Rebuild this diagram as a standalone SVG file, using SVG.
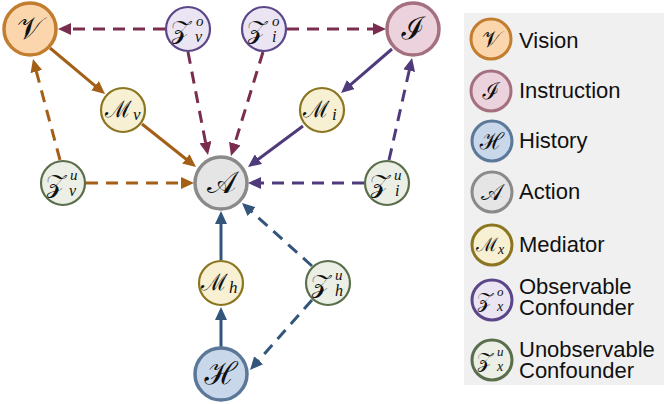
<svg xmlns="http://www.w3.org/2000/svg" width="664" height="404" viewBox="0 0 664 404">
<style>
.v{fill:#fbd6ad;stroke:#c27d2f;stroke-width:3.5}
.i{fill:#ecd2dc;stroke:#a4707f;stroke-width:3.5}
.h{fill:#c9d7ea;stroke:#5b7898;stroke-width:3.5}
.a{fill:#e5e5e5;stroke:#8a8a8a;stroke-width:3.5}
.m{fill:#f8f0d2;stroke:#8b7521;stroke-width:2.2}
.zo{fill:#ebe5f3;stroke:#5a4688;stroke-width:2.2}
.zu{fill:#ebefe6;stroke:#5b6e4b;stroke-width:2.2}
.lg{stroke-width:3}
.sc{font-family:"Noto Sans",serif;fill:#111}
.it{font-family:"Liberation Serif",serif;font-style:italic}
.lt{font-family:"Liberation Sans",Arial,sans-serif;font-size:22px;fill:#111}
.e{fill:none;stroke-width:3}
.d{stroke-dasharray:12 8}
.br{stroke:#a35f16}.mr{stroke:#7b2d4f}.pu{stroke:#4f3a7c}.nv{stroke:#33557c}
</style>
<defs>
<marker id="ab" markerUnits="userSpaceOnUse" markerWidth="14" markerHeight="12" refX="1" refY="6" orient="auto"><path d="M0,0L13,6L0,12z" fill="#a35f16"/></marker>
<marker id="am" markerUnits="userSpaceOnUse" markerWidth="14" markerHeight="12" refX="1" refY="6" orient="auto"><path d="M0,0L13,6L0,12z" fill="#7b2d4f"/></marker>
<marker id="ap" markerUnits="userSpaceOnUse" markerWidth="14" markerHeight="12" refX="1" refY="6" orient="auto"><path d="M0,0L13,6L0,12z" fill="#4f3a7c"/></marker>
<marker id="an" markerUnits="userSpaceOnUse" markerWidth="14" markerHeight="12" refX="1" refY="6" orient="auto"><path d="M0,0L13,6L0,12z" fill="#33557c"/></marker>
</defs>
<rect x="464" y="13" width="200" height="372" fill="#f0f0f0"/>
<g id="connectors">
<line class="e d mr" x1="165" y1="29" x2="70" y2="29" marker-end="url(#am)"/>
<line class="e d mr" x1="188" y1="52" x2="205.7" y2="143.2" marker-end="url(#am)"/>
<line class="e d mr" x1="287" y1="29" x2="374" y2="29" marker-end="url(#am)"/>
<line class="e d mr" x1="263" y1="52" x2="234.5" y2="144.5" marker-end="url(#am)"/>
<line class="e br" x1="50" y1="48" x2="95.8" y2="86.3" marker-end="url(#ab)"/>
<line class="e br" x1="142" y1="124" x2="186.6" y2="159.5" marker-end="url(#ab)"/>
<line class="e d br" x1="86" y1="183" x2="182" y2="183" marker-end="url(#ab)"/>
<line class="e d br" x1="60" y1="160" x2="36.1" y2="70.6" marker-end="url(#ab)"/>
<line class="e pu" x1="392" y1="49" x2="350.1" y2="85.2" marker-end="url(#ap)"/>
<line class="e pu" x1="303" y1="126" x2="257.6" y2="159.8" marker-end="url(#ap)"/>
<line class="e d pu" x1="364" y1="183" x2="260" y2="183" marker-end="url(#ap)"/>
<line class="e d pu" x1="389" y1="160" x2="409.4" y2="69.7" marker-end="url(#ap)"/>
<line class="e nv" x1="221" y1="260" x2="221" y2="223" marker-end="url(#an)"/>
<line class="e nv" x1="221" y1="347" x2="221" y2="319" marker-end="url(#an)"/>
<line class="e d nv" x1="312" y1="266" x2="250.9" y2="211" marker-end="url(#an)"/>
<line class="e d nv" x1="312" y1="300" x2="258" y2="361" marker-end="url(#an)"/>
</g>
<g id="node-V"><circle class="v" cx="30" cy="29" r="26"/><text class="sc" x="30" y="39" font-size="31" text-anchor="middle">𝒱</text></g>
<g id="node-I"><circle class="i" cx="413" cy="29" r="26"/><text class="sc" x="413" y="39" font-size="31" text-anchor="middle">ℐ</text></g>
<g id="node-A"><circle class="a" cx="221" cy="183" r="26"/><text class="sc" x="221" y="193" font-size="31" text-anchor="middle">𝒜</text></g>
<g id="node-H"><circle class="h" cx="221" cy="374" r="26"/><text class="sc" x="221" y="384" font-size="31" text-anchor="middle">ℋ</text></g>
<g id="node-Mv"><circle class="m" cx="123" cy="110" r="22"/><text class="sc" x="105" y="117" font-size="23">ℳ<tspan class="it" x="133" y="120" font-size="17">v</tspan></text></g>
<g id="node-Mi"><circle class="m" cx="322" cy="110" r="22"/><text class="sc" x="303" y="117" font-size="23">ℳ<tspan class="it" x="332" y="120" font-size="17">i</tspan></text></g>
<g id="node-Mh"><circle class="m" cx="221" cy="283" r="22"/><text class="sc" x="201" y="290" font-size="23">ℳ<tspan class="it" x="229" y="293" font-size="17">h</tspan></text></g>
<g id="node-Zvo"><circle class="zo" cx="188" cy="29" r="22"/><text class="sc" x="171" y="38" font-size="26">𝒵<tspan class="it" x="196" y="26" font-size="15">o</tspan><tspan class="it" x="195" y="42" font-size="16">v</tspan></text></g>
<g id="node-Zio"><circle class="zo" cx="264" cy="29" r="22"/><text class="sc" x="247" y="38" font-size="26">𝒵<tspan class="it" x="272" y="26" font-size="15">o</tspan><tspan class="it" x="272" y="42" font-size="16">i</tspan></text></g>
<g id="node-Zvu"><circle class="zu" cx="63" cy="183" r="22"/><text class="sc" x="46" y="192" font-size="26">𝒵<tspan class="it" x="70" y="180" font-size="15">u</tspan><tspan class="it" x="69" y="196" font-size="16">v</tspan></text></g>
<g id="node-Ziu"><circle class="zu" cx="387" cy="183" r="22"/><text class="sc" x="370" y="192" font-size="26">𝒵<tspan class="it" x="394" y="180" font-size="15">u</tspan><tspan class="it" x="395" y="196" font-size="16">i</tspan></text></g>
<g id="node-Zhu"><circle class="zu" cx="328" cy="283" r="22"/><text class="sc" x="311" y="292" font-size="26">𝒵<tspan class="it" x="335" y="280" font-size="15">u</tspan><tspan class="it" x="335" y="296" font-size="16">h</tspan></text></g>
<g id="legend">
<g id="leg-V"><circle class="v lg" cx="491" cy="39" r="20"/><text class="sc" x="491" y="47" font-size="23" text-anchor="middle">𝒱</text><text class="lt" x="519" y="48">Vision</text></g>
<g id="leg-I"><circle class="i lg" cx="491" cy="91" r="20"/><text class="sc" x="491" y="99" font-size="23" text-anchor="middle">ℐ</text><text class="lt" x="519" y="98">Instruction</text></g>
<g id="leg-H"><circle class="h lg" cx="492" cy="141" r="20"/><text class="sc" x="492" y="149" font-size="23" text-anchor="middle">ℋ</text><text class="lt" x="519" y="148">History</text></g>
<g id="leg-A"><circle class="a lg" cx="492" cy="192" r="20"/><text class="sc" x="492" y="200" font-size="23" text-anchor="middle">𝒜</text><text class="lt" x="519" y="199">Action</text></g>
<g id="leg-M"><circle class="m lg" cx="492" cy="245" r="20"/><text class="sc" x="476" y="251" font-size="19">ℳ<tspan class="it" x="498" y="254" font-size="14">x</tspan></text><text class="lt" x="519" y="252">Mediator</text></g>
<g id="leg-Zo"><circle class="zo lg" cx="492" cy="300" r="20"/><text class="sc" x="477" y="307" font-size="21">𝒵<tspan class="it" x="497" y="296" font-size="13">o</tspan><tspan class="it" x="497" y="311" font-size="14">x</tspan></text><text class="lt" x="519" y="294">Observable</text><text class="lt" x="519" y="315">Confounder</text></g>
<g id="leg-Zu"><circle class="zu lg" cx="492" cy="360" r="20"/><text class="sc" x="477" y="367" font-size="21">𝒵<tspan class="it" x="497" y="356" font-size="13">u</tspan><tspan class="it" x="497" y="371" font-size="14">x</tspan></text><text class="lt" x="519" y="357">Unobservable</text><text class="lt" x="519" y="378">Confounder</text></g>
</g>
</svg>
